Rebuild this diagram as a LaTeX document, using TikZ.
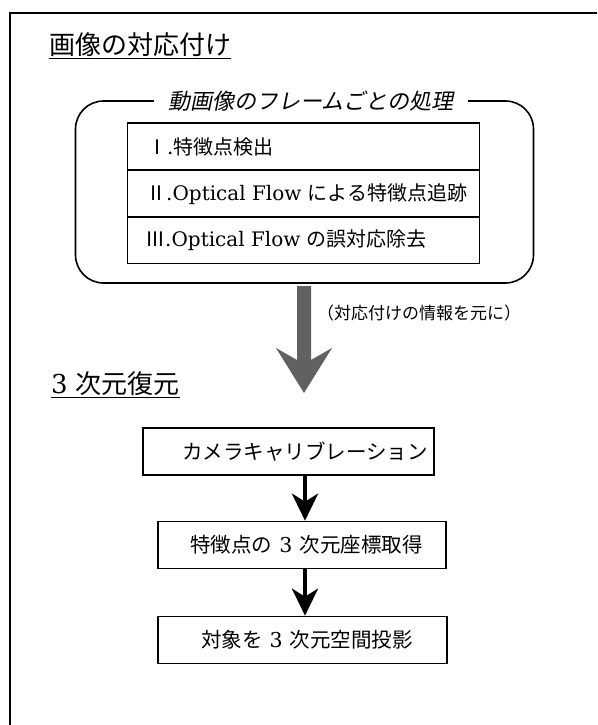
\documentclass[tikz,border=0pt]{standalone}
\usepackage{fontspec}
\setmainfont{DejaVu Serif}
\newfontfamily\jp{Noto Sans CJK JP}
\newfontfamily\jpit[FakeSlant=0.2]{Noto Sans CJK JP}
\usetikzlibrary{arrows.meta}
\begin{document}
\begin{tikzpicture}[x=1pt,y=-1pt,
  frameline/.style={line width=1.6pt},
  heading/.style={anchor=west,inner sep=0pt,font=\jp\fontsize{26}{30}\selectfont},
  group/.style={draw,line width=1.6pt,rounded corners=28pt,minimum width=458pt,minimum height=182pt,inner sep=0pt},
  grplabel/.style={fill=white,inner xsep=14pt,inner ysep=2pt,font=\jpit\fontsize{22}{26}\selectfont},
  rowbox/.style={draw,line width=1.6pt,minimum width=352pt,minimum height=47pt,inner sep=0pt},
  rowtext/.style={anchor=west,inner sep=0pt,font=\jp\fontsize{20}{24}\selectfont},
  stepbox/.style={draw,line width=1.6pt,minimum height=47pt,inner sep=0pt},
  boxtext/.style={inner sep=0pt,font=\jp\fontsize{20.5}{24}\selectfont},
  note/.style={anchor=west,inner sep=0pt,font=\jp\fontsize{17}{20}\selectfont},
  blkarrow/.style={line width=4.5pt,-{Stealth[length=27pt,width=26pt,inset=8pt]}},
  bigarrow/.style={fill=black!62}
]
\useasboundingbox (0,0) rectangle (597,725);
\clip (0,0) rectangle (597,725);
% outer frame (runs off the page on the right and bottom)
\coordinate (fbl) at (10,740);
\coordinate (ftl) at (10,13);
\coordinate (ftr) at (610,13);
\draw[frameline] (fbl) -- (ftl) -- (ftr);

% heading 1
\node[heading] (h1) at (49,46) {\underline{画像の対応付け}};

% rounded group
\node[group] (grp) at (304.5,192) {};
\node[grplabel] (gl) at (311,101) {動画像のフレームごとの処理};

% table rows
\node[rowbox] (r1) at (303.5,146.5) {};
\node[rowbox] (r2) at (303.5,193.5) {};
\node[rowbox] (r3) at (303.5,240) {};
\node[rowtext] (r1t) at (147,147) {Ⅰ{\rmfamily .}特徴点検出};
\node[rowtext] (r2t) at (146,194) {Ⅱ{\rmfamily .Optical Flow }による特徴点追跡};
\node[rowtext] (r3t) at (145,240) {Ⅲ{\rmfamily .Optical Flow }の誤対応除去};

% big gray arrow
\coordinate (gtip) at (304,393);
\fill[bigarrow] (297,286) -- (311,286) -- (311,360) -- (332,348) -- (gtip) -- (276,348) -- (297,360) -- cycle;
\node[note] (gn) at (317,313) {（対応付けの情報を元に）};

% heading 2
\node[heading] (h2) at (51,385) {\underline{{\rmfamily 3}\hspace{0.3em}次元復元}};

% steps
\node[stepbox,minimum width=291pt] (b1) at (288.5,451.5) {};
\node[boxtext] (b1t) at (305,451.5) {カメラキャリブレーション};
\node[stepbox,minimum width=288pt] (b2) at (302,545) {};
\node[boxtext] (b2t) at (306.5,545) {特徴点の\hspace{0.35em}{\rmfamily 3}\hspace{0.35em}次元座標取得};
\node[stepbox,minimum width=289pt] (b3) at (302.5,640) {};
\node[boxtext] (b3t) at (307,640) {対象を\hspace{0.35em}{\rmfamily 3}\hspace{0.35em}次元空間投影};

\coordinate (ax) at (305,0);
\draw[blkarrow] (b1.south -| ax) -- (b2.north -| ax);
\draw[blkarrow] (b2.south -| ax) -- (b3.north -| ax);
\end{tikzpicture}
\end{document}
